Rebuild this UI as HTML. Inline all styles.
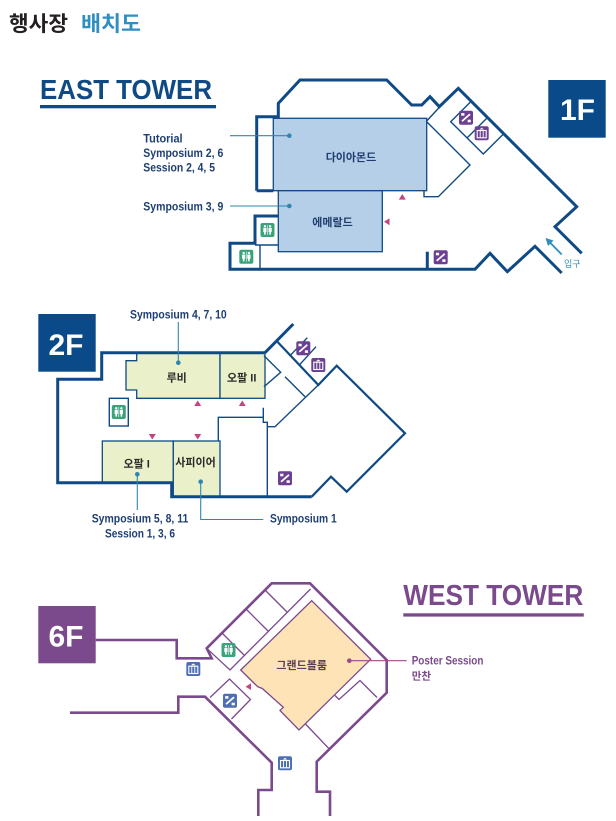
<!DOCTYPE html>
<html><head><meta charset="utf-8"><style>
html,body{margin:0;padding:0;background:#fff;}
svg{display:block;}
text{font-family:"Liberation Sans","Noto Sans CJK KR",sans-serif;}
</style></head><body>
<svg width="616" height="821" viewBox="0 0 616 821" xmlns="http://www.w3.org/2000/svg">
<defs>
<g id="icEsc"><rect x="-7" y="-7" width="14" height="14" rx="2"/><path d="M-4,3.5 L4,-3.5" stroke="#fff" stroke-width="1.7" fill="none"/><rect x="-4.8" y="-4.6" width="3.2" height="2.6" fill="#fff"/><rect x="1.6" y="2" width="3.2" height="2.6" fill="#fff"/></g>
<g id="icElev"><rect x="-7" y="-7" width="14" height="14" rx="2"/><rect x="-4.5" y="-2.8" width="9" height="7.3" stroke="#fff" stroke-width="1.1" fill="none"/><path d="M-1.5,-2.8 V4.5 M1.5,-2.8 V4.5" stroke="#fff" stroke-width="0.9"/><polygon points="-2.2,-3.8 0,-5.6 2.2,-3.8" fill="#fff"/></g>
<g id="icWc"><rect x="-7" y="-7" width="14" height="14" rx="2"/><circle cx="-2.6" cy="-3.7" r="1.2" fill="#fff"/><circle cx="2.6" cy="-3.7" r="1.2" fill="#fff"/><rect x="-4.2" y="-2.1" width="3.2" height="4.2" fill="#fff"/><rect x="1" y="-2.1" width="3.2" height="4.2" fill="#fff"/><rect x="-3.4" y="1.8" width="1.6" height="2.8" fill="#fff"/><rect x="1.8" y="1.8" width="1.6" height="2.8" fill="#fff"/><path d="M0,-5 V5" stroke="#fff" stroke-width="0.6"/></g>
</defs>

<!-- Title -->
<text x="9" y="31" font-size="21" font-weight="bold" fill="#231f20" textLength="59" lengthAdjust="spacingAndGlyphs">행사장</text>
<text x="81" y="31" font-size="21" font-weight="bold" fill="#2f8fc1" textLength="60" lengthAdjust="spacingAndGlyphs">배치도</text>

<!-- EAST TOWER -->
<text x="40" y="99" font-size="28" font-weight="bold" fill="#0f4a85" textLength="172" lengthAdjust="spacingAndGlyphs">EAST TOWER</text>
<rect x="40" y="105" width="176" height="3.3" fill="#0f4a85"/>

<!-- 1F badge -->
<rect x="548.3" y="80" width="57.4" height="57.7" fill="#0a4a88"/>
<text x="577.5" y="120" font-size="30" font-weight="bold" fill="#fff" text-anchor="middle">1F</text>

<!-- 1F rooms -->
<rect x="273.3" y="118.3" width="153.4" height="72.4" fill="#b6cfe8" stroke="#0f4a85" stroke-width="1.3"/>
<rect x="278.3" y="190.7" width="104" height="61" fill="#b6cfe8" stroke="#0f4a85" stroke-width="1.3"/>
<text x="351" y="161" font-size="11" font-weight="bold" fill="#1f3d6e" text-anchor="middle">다이아몬드</text>
<text x="332.5" y="226" font-size="11" font-weight="bold" fill="#1f3d6e" text-anchor="middle">에메랄드</text>

<!-- 1F walls -->
<g fill="none" stroke="#0f4a85" stroke-width="3" stroke-linejoin="miter">
<path d="M256.7,190.7 V116.7 H278.3 V103.3 L300,80 H386.7 L411.7,105 H421.7 L430,96.7 L439.3,106.7 L458.3,88.3 L576.7,206.7 L555,226.7 L581.7,253.3"/>
<path d="M561.7,273 L535,246.3 L507.3,271.7 L490,253.3 L475,269.3 H230 V243.3 H255 V216 H278.3"/>
<path d="M427.3,251.7 V269.3"/>
<path d="M256.7,190.7 H273.3"/>
</g>
<g fill="none" stroke="#0f4a85" stroke-width="1.4">
<path d="M426.7,121.7 L470,165 L438.3,196.7 H424 V190.7"/>
<path d="M426.7,121 L439.3,107.4"/>
<path d="M471.2,101.2 L450.7,121.7 L483.3,154 L503.7,133.7 M467,138 L487.5,117.5"/>
<path d="M255,245 H278.3 M260,245 V269.3"/>
</g>
<polygon points="398.8,199.6 405.8,199.6 402.3,194" fill="#c3447e"/>
<polygon points="384,221.7 389.5,218.2 389.5,225.2" fill="#c3447e"/>
<use href="#icEsc" x="466" y="117.7" fill="#6b3f91"/>
<use href="#icElev" x="481.7" y="133.3" fill="#6b3f91"/>
<use href="#icEsc" x="440.7" y="257.3" fill="#6b3f91"/>
<use href="#icWc" x="267.5" y="230" fill="#3aa37c"/>
<use href="#icWc" x="246.3" y="256.7" fill="#3aa37c"/>

<!-- 1F leaders -->
<g stroke="#2f86b0" stroke-width="1.1">
<path d="M230,135.7 H289.3 M230,206 H289.3"/>
</g>
<circle cx="289.3" cy="135.7" r="2.3" fill="#2f86b0"/>
<circle cx="289.3" cy="206" r="2.3" fill="#2f86b0"/>
<g font-size="11.5" font-weight="bold" fill="#1f3f73">
<text x="143.3" y="142.5" textLength="39.3" lengthAdjust="spacingAndGlyphs">Tutorial</text>
<text x="143.3" y="157" textLength="80" lengthAdjust="spacingAndGlyphs">Symposium 2, 6</text>
<text x="143.3" y="171.7" textLength="71.7" lengthAdjust="spacingAndGlyphs">Session  2, 4, 5</text>
<text x="143.3" y="210.7" textLength="80" lengthAdjust="spacingAndGlyphs">Symposium 3, 9</text>
</g>

<!-- entrance -->
<path d="M561.7,254.5 L549.5,242" stroke="#2f8dbb" stroke-width="1.8"/>
<polygon points="545.5,238 553.5,240.5 548,246" fill="#2f8dbb"/>
<text x="564" y="267" font-size="9" fill="#2f8dbb">입구</text>

<!-- 2F badge -->
<rect x="38.3" y="314" width="57.4" height="57.7" fill="#0a4a88"/>
<text x="66" y="355" font-size="30" font-weight="bold" fill="#fff" text-anchor="middle">2F</text>

<!-- 2F rooms -->
<g fill="#eaf0c9" stroke="#0f4a85" stroke-width="1.3">
<polygon points="126,360.7 136.7,360.7 136.7,352.7 220,352.7 220,398.3 136.7,398.3 136.7,390 126,390"/>
<rect x="220" y="352.7" width="45" height="45.6"/>
<rect x="102.3" y="441" width="71" height="41.7"/>
<rect x="173.3" y="441" width="46.7" height="55.7"/>
</g>
<g font-size="11" font-weight="bold" fill="#2a2a2a" text-anchor="middle">
<text x="176.7" y="381.5">루비</text>
<text x="241.7" y="381.5">오팔 II</text>
<text x="136.7" y="467.5">오팔 I</text>
<text x="195.5" y="466">사피이어</text>
</g>

<!-- 2F walls -->
<g fill="none" stroke="#0f4a85" stroke-width="3">
<path d="M265,352.7 H101.7 V379.3 H57.7 V482.7 H171.7 V496.7 H311.7"/>
<path d="M265,352.7 L293.3,324"/>
</g>
<g fill="none" stroke="#0f4a85" stroke-width="2.2">
<path d="M311.7,496.7 L331,476.7 L346.7,491.7 L405,433.3 L336.7,365.7 L318.3,385 L276.7,341"/>
</g>
<g fill="none" stroke="#0f4a85" stroke-width="1.4">
<path d="M318.3,385 L275,426.7 H267.3"/>
<path d="M263.3,407.7 V422.3 H267.3 V496.7"/>
<path d="M218.3,441 V417.3 H263.3"/>
<path d="M264,355.7 L280.7,372.3 L264,386.7"/>
<path d="M285,376.7 L305,396.7"/>
<path d="M290,355.7 L307.3,337.7 M300,364.3 L316,346.7"/>
<rect x="109.3" y="398.3" width="19" height="27.7"/>
</g>
<g fill="#c3447e">
<polygon points="194.2,406 201.2,406 197.7,400.5"/>
<polygon points="238.8,406 245.8,406 242.3,400.5"/>
<polygon points="148.8,434 155.8,434 152.3,439.5"/>
<polygon points="194.2,434 201.2,434 197.7,439.5"/>
</g>
<use href="#icEsc" x="303.3" y="348.3" fill="#6b3f91"/>
<use href="#icElev" x="318.3" y="365" fill="#6b3f91"/>
<use href="#icEsc" x="285" y="478.3" fill="#6b3f91"/>
<use href="#icWc" x="118.8" y="412" fill="#3aa37c"/>

<!-- 2F leaders -->
<g stroke="#2f86b0" stroke-width="1.1" fill="none">
<path d="M178.3,322 V362.7"/>
<path d="M137.3,474.3 V510"/>
<path d="M200.7,481.7 V519.5 H263.3"/>
</g>
<circle cx="178.3" cy="362.7" r="2.3" fill="#2f86b0"/>
<circle cx="137.3" cy="474.3" r="2.3" fill="#2f86b0"/>
<circle cx="200.7" cy="481.7" r="2.3" fill="#2f86b0"/>
<g font-size="11.5" font-weight="bold" fill="#1f3f73">
<text x="130" y="318.5" textLength="96.7" lengthAdjust="spacingAndGlyphs">Symposium 4, 7, 10</text>
<text x="91.7" y="522.7" textLength="96.6" lengthAdjust="spacingAndGlyphs">Symposium 5, 8, 11</text>
<text x="105" y="537.3" textLength="70" lengthAdjust="spacingAndGlyphs">Session  1, 3, 6</text>
<text x="270" y="522.7" textLength="66.7" lengthAdjust="spacingAndGlyphs">Symposium 1</text>
</g>

<!-- WEST TOWER -->
<text x="403.3" y="605" font-size="29" font-weight="bold" fill="#7b4a8c" textLength="180" lengthAdjust="spacingAndGlyphs">WEST TOWER</text>
<rect x="403.3" y="613.3" width="180.5" height="3.3" fill="#7b4a8c"/>

<!-- 6F badge -->
<rect x="38.3" y="606" width="57.4" height="57.3" fill="#7b4a8c"/>
<text x="66" y="646.7" font-size="30" font-weight="bold" fill="#fff" text-anchor="middle">6F</text>

<!-- 6F ballroom -->
<polygon points="311.7,600.7 370.7,659.3 299,730 280,710.5 283.3,707.3 262.3,688.5 257.7,686.7 240.7,670" fill="#fde3b6" stroke="#7b4a8c" stroke-width="1.3"/>
<text x="301.7" y="669" font-size="11" font-weight="bold" fill="#5a3d57" text-anchor="middle">그랜드볼룸</text>

<!-- 6F walls -->
<g fill="none" stroke="#7b4a8c" stroke-width="2.6">
<path d="M95.7,640 H176.7 V658.3 H211.7 L206.7,648.3 L271.7,583.3 H310 L386.7,660 V692.7 L316.7,761.7 V791.7 H330 V816"/>
<path d="M70,712.7 H178.3 V696.7 H205 L271.7,762.7 V790 H258.3 V816"/>
</g>
<g fill="none" stroke="#7b4a8c" stroke-width="1.3">
<path d="M206.7,648.3 L230,670 L310.5,589"/>
<path d="M222,633 L244.5,655.5 M246,609 L268.5,631.5 M265,590 L287.5,612.5"/>
<path d="M210,697.5 L229.5,679 L250.5,699.5 L231.5,719"/>
<path d="M335,695.5 L339,699.5 L360,680.5 L377,697.5"/>
<path d="M305,723.5 L329,748.7"/>
</g>
<polygon points="245.5,686.7 251,683.3 251,690" fill="#c3447e"/>
<use href="#icWc" x="228.5" y="650" fill="#3aa37c"/>
<use href="#icElev" x="193.3" y="669" fill="#4d6fb3"/>
<use href="#icEsc" x="230" y="700.7" fill="#4d6fb3"/>
<use href="#icElev" x="285" y="763.3" fill="#4d6fb3"/>

<!-- 6F leader -->
<path d="M349.3,660.7 H406.7" stroke="#9b4a8a" stroke-width="1.1"/>
<circle cx="349.3" cy="660.7" r="2.3" fill="#9b4a8a"/>
<text x="411.7" y="664.7" font-size="11.5" font-weight="bold" fill="#7b4a8c" textLength="71.7" lengthAdjust="spacingAndGlyphs">Poster Session</text>
<text x="411.7" y="679.5" font-size="10.5" font-weight="bold" fill="#7b4a8c">만찬</text>
</svg>
</body></html>
